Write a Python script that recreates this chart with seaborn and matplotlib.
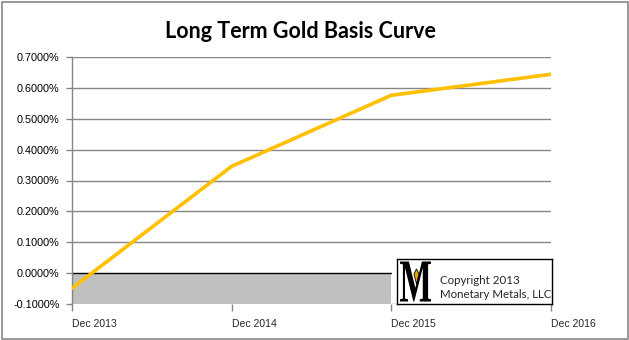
import matplotlib
matplotlib.use("Agg")
import matplotlib.pyplot as plt
import seaborn as sns
import pandas as pd
from matplotlib.patches import Rectangle, PathPatch, Polygon
from matplotlib.textpath import TextPath
from matplotlib.font_manager import FontProperties
from matplotlib.transforms import Affine2D

# Basis curve: contract month and basis (percent)
months = ["Dec 2013", "Dec 2014", "Dec 2015", "Dec 2016"]
basis_pct = [-0.049, 0.346, 0.576, 0.644]
y_ticks = [-0.1, 0.0, 0.1, 0.2, 0.3, 0.4, 0.5, 0.6, 0.7]
backwardation_span = ["Dec 2013", "Dec 2015"]

df = pd.DataFrame({"pos": range(len(months)), "month": months, "basis": basis_pct})

sns.set_theme(style="white")
plt.rcParams["font.family"] = ["Liberation Sans", "DejaVu Sans"]

W, H = 629, 340
fig = plt.figure(figsize=(W / 100, H / 100), dpi=100)
fig.patch.set_facecolor("white")
ax = fig.add_axes([72 / W, 1 - 304 / H, (551 - 72) / W, (304 - 57) / H])

# Negative-basis band below zero
x0 = months.index(backwardation_span[0])
x1 = months.index(backwardation_span[1])
ax.fill_between([x0, x1], [y_ticks[0]] * 2, [0, 0], color="#c0c0c0", lw=0, zorder=1)
ax.plot([x0, x1], [0, 0], color="black", lw=1, zorder=2)

for t in y_ticks:
    if t != 0.0:
        ax.axhline(t, color="#868686", lw=1, zorder=0)

sns.lineplot(data=df, x="pos", y="basis", color="#ffc000", lw=2.6, ax=ax, zorder=3)

ax.set_xlim(0, len(months) - 1)
ax.set_ylim(y_ticks[0], y_ticks[-1])
ax.set_yticks(y_ticks)
ax.set_yticklabels([f"{v:.4f}%" for v in y_ticks], fontsize=7.8, color="#000000")
ax.set_xticks(range(len(months)))
ax.set_xticklabels(months, fontsize=7.5, ha="left")
ax.set_xlabel("")
ax.set_ylabel("")
for s in ["top", "right", "bottom"]:
    ax.spines[s].set_visible(False)
ax.spines["left"].set_color("#868686")
ax.spines["left"].set_linewidth(1)
ax.tick_params(axis="both", which="both", length=4, width=1, color="#868686",
               direction="out")
ax.tick_params(axis="x", bottom=True, pad=6, length=5)
ax.tick_params(axis="y", left=True, pad=5)

fig.text(300 / W, 1 - 31 / H, "Long Term Gold Basis Curve", ha="center", va="center",
         fontsize=15.5, fontweight="bold", color="black", family=["Lato", "DejaVu Sans"])

# Outer chart border
fig.patches.append(Rectangle((1.5 / W, 1.5 / H), (W - 3) / W, (H - 3) / H,
                             transform=fig.transFigure, fill=False,
                             edgecolor="#868686", lw=1.2))

# Copyright logo box
lax = fig.add_axes([397 / W, 1 - 304 / H, (552 - 397) / W, (304 - 259) / H])
lax.set_xlim(0, 155)
lax.set_ylim(0, 45)
lax.set_xticks([])
lax.set_yticks([])
for s in lax.spines.values():
    s.set_color("black")
    s.set_linewidth(1)
lax.set_facecolor("white")

mp = TextPath((0, 0), "M", size=10, prop=FontProperties(family="Liberation Serif", weight="bold"))
ext = mp.get_extents()
sx = 31 / ext.width
sy = 40 / ext.height
tr = Affine2D().translate(-ext.x0, -ext.y0).scale(sx, sy).translate(3, 2.5)
lax.add_patch(PathPatch(tr.transform_path(mp), color="black", lw=0))
lax.add_patch(Polygon([[19.5, 35], [22, 30], [19.5, 20], [17, 30]], closed=True,
                      facecolor="#e8a317", edgecolor="black", lw=0.6))

lax.text(43, 23, "Copyright 2013", fontsize=8.3, va="center", ha="left",
         family=["Lato", "DejaVu Sans"])
lax.text(43, 10, "Monetary Metals, LLC", fontsize=8.3, va="center", ha="left",
         family=["Lato", "DejaVu Sans"])

fig.savefig("out.png", dpi=100)
